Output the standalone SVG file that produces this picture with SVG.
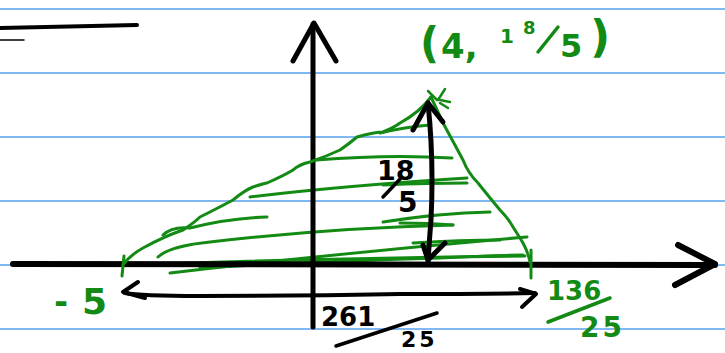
<svg xmlns="http://www.w3.org/2000/svg" width="725" height="353" viewBox="0 0 725 353">
<style>
.rule{stroke:#80b8f4;stroke-width:2;fill:none}
.ink{stroke:#000;fill:none;stroke-linecap:round;stroke-linejoin:round}
.g{stroke:#138a13;fill:none;stroke-linecap:round;stroke-linejoin:round}
.gt{fill:#138a13;font-family:"DejaVu Sans",sans-serif;font-weight:bold}
.bt{fill:#000;font-family:"DejaVu Sans",sans-serif;font-weight:bold}
</style>
<rect width="725" height="353" fill="#fff"/>
<g id="rules">
<line class="rule" x1="0" y1="9" x2="725" y2="9"/>
<line class="rule" x1="0" y1="73" x2="725" y2="73"/>
<line class="rule" x1="0" y1="137" x2="725" y2="137"/>
<line class="rule" x1="0" y1="201" x2="725" y2="201"/>
<line class="rule" x1="0" y1="265" x2="725" y2="265"/>
<line class="rule" x1="0" y1="329" x2="725" y2="329"/>
</g>
<g id="topleft">
<path class="ink" d="M0 28 L137 25" stroke-width="4"/>
<path class="ink" d="M0 40 L24 40" stroke-width="1.5"/>
</g>
<g id="hatching">
<path class="g" stroke-width="3" d="M380 133 Q405 127 430 125"/>
<path class="g" stroke-width="3" d="M316 160 Q390 154 452 158"/>
<path class="g" stroke-width="3" d="M250 197 Q340 186 467 178"/>
<path class="g" stroke-width="3" d="M383 185 Q430 183 467 183"/>
<path class="g" stroke-width="3" d="M163 235 Q172 226 190 228 Q230 218 267 217"/>
<path class="g" stroke-width="3" d="M158 257 Q170 246 210 242 Q330 228 453 225"/>
<path class="g" stroke-width="3" d="M383 222 Q440 213 490 212"/>
<path class="g" stroke-width="3" d="M400 223 Q430 223 453 225"/>
<path class="g" stroke-width="3" d="M170 273 Q350 252 527 237"/>
<path class="g" stroke-width="3" d="M413 243 Q460 240 500 240"/>
<path class="g" stroke-width="3" d="M123 265 Q330 258 525 256"/>
<path class="g" stroke-width="3" d="M200 268 Q300 262 440 258 Q500 255 523 255"/>
</g>
<g id="axes">
<path class="ink" stroke-width="6" d="M13 264 L715 265"/>
<path class="ink" stroke-width="6" d="M678 245 L715 264 L675 285"/>
<path class="ink" stroke-width="5" d="M313 24 L313 327"/>
<path class="ink" stroke-width="5" d="M293 61 L314 23 L336 61"/>
</g>
<g id="triangle">
<path class="g" stroke-width="3" d="M123 265 Q130 255 143 248 Q165 236 183 230 Q195 222 200 217 Q220 207 233 200 Q245 190 253 187 Q262 184 267 183 Q285 175 293 170 Q300 164 310 162 Q325 157 340 150 Q350 143 357 137 Q375 132 383 132 Q395 127 400 123 Q420 112 431 97"/>
<path class="g" stroke-width="3" d="M431 97 Q438 112 443 123 Q455 145 463 160 Q468 173 478 183 Q490 198 500 210 Q508 218 513 227 Q520 238 523 243 Q528 252 530 262"/>
<path class="g" stroke-width="3" d="M124 256 L122 276"/>
<path class="g" stroke-width="3" d="M531 250 L531 278"/>
<path class="g" stroke-width="2.5" d="M428 91 L437 100 M445 89 L438 100 M440 100 L450 102 M440 103 L448 108"/>
</g>
<g id="height-arrow">
<path class="ink" stroke-width="5" d="M428 103 Q434 160 431 220 Q429 245 428 262"/>
<path class="ink" stroke-width="5" d="M413 130 L428 103 L443 122"/>
<path class="ink" stroke-width="5" d="M423 245 L428 260 L445 243"/>
<text class="bt" x="377" y="180" font-size="27">18</text>
<path class="ink" stroke-width="3.5" d="M383 197 L402 177"/>
<text class="bt" x="398" y="212" font-size="28">5</text>
</g>
<g id="width-arrow">
<path class="ink" stroke-width="4" d="M125 293 Q140 296 200 296 Q300 296 400 294 Q480 294 535 293"/>
<path class="ink" stroke-width="4" d="M138 282 L123 292 L145 298"/>
<path class="ink" stroke-width="4" d="M520 289 L536 294 L522 307"/>
<text class="bt" x="321" y="326" font-size="26">261</text>
<path class="ink" stroke-width="3.5" d="M336 346 L437 313"/>
<text class="bt" x="401" y="347" font-size="22" letter-spacing="3">25</text>
</g>
<g id="labels">
<text class="gt" x="420" y="58" font-size="42">(</text>
<text class="gt" x="441" y="58" font-size="34">4,</text>
<text class="gt" x="500" y="43" font-size="20">1</text>
<text class="gt" x="523" y="34" font-size="18">8</text>
<path class="g" stroke-width="3.5" d="M538 52 L558 27"/>
<text class="gt" x="560" y="57" font-size="32">5</text>
<text class="gt" x="590" y="52" font-size="44">)</text>
<text class="gt" x="54" y="313" font-size="34">-</text>
<text class="gt" x="82" y="314" font-size="36">5</text>
<text class="gt" x="547" y="300" font-size="26">136</text>
<path class="g" stroke-width="3.5" d="M548 322 L610 298"/>
<text class="gt" x="580" y="337" font-size="28" letter-spacing="3">25</text>
</g>
</svg>
